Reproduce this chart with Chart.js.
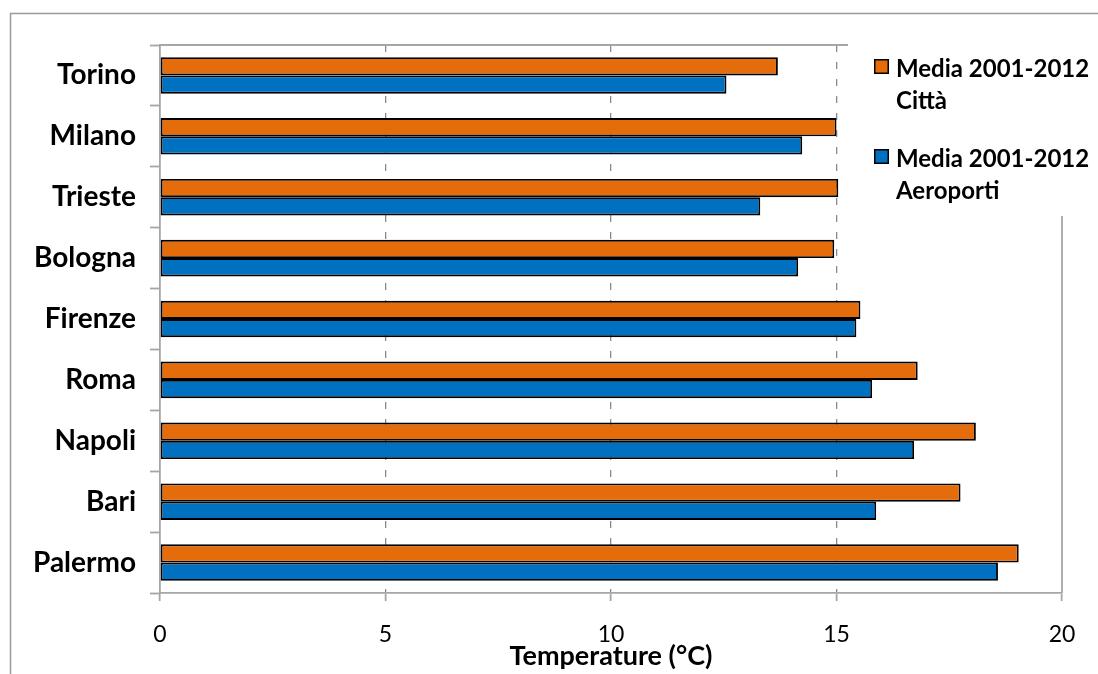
<!DOCTYPE html>
<html>
<head>
<meta charset="utf-8">
<script src="https://cdn.jsdelivr.net/npm/chart.js@4/dist/chart.umd.min.js"></script>
<style>
  html, body { margin: 0; padding: 0; background: #ffffff; }
  #wrap { width: 1098px; height: 674px; position: relative; }
</style>
</head>
<body>
<div id="wrap"><canvas id="chart"></canvas></div>
<script>
// Mean temperatures 2001-2012 (°C): city stations vs. airport stations
const cities = ['Torino', 'Milano', 'Trieste', 'Bologna', 'Firenze', 'Roma', 'Napoli', 'Bari', 'Palermo'];
const cityMeans = [13.70, 15.00, 15.04, 14.95, 15.53, 16.80, 18.09, 17.75, 19.04];
const airportMeans = [12.56, 14.24, 13.31, 14.15, 15.44, 15.79, 16.72, 15.88, 18.58];
const seriesNames = ['Media 2001-2012\nCittà', 'Media 2001-2012\nAeroporti'];
const seriesColors = ['#E46C0A', '#0070C0'];
const xTicks = { min: 0, max: 20, step: 5 };
const xTitle = 'Temperature (°C)';

const FONT = 'Lato, "Open Sans", sans-serif';
const FRAME = '#9a9a9a';

// Outer frame, plot-area box and the legend panel drawn over the top-right corner
const framePlugin = {
  id: 'frame',
  beforeDraw(chart) {
    const ctx = chart.ctx;
    ctx.save();
    ctx.strokeStyle = FRAME;
    ctx.lineWidth = 1.5;
    ctx.beginPath();
    ctx.moveTo(10.5, 674);
    ctx.lineTo(10.5, 13.5);
    ctx.lineTo(1098, 13.5);
    ctx.stroke();
    ctx.restore();
  },
  afterDatasetsDraw(chart) {
    const { ctx, chartArea: a } = chart;
    ctx.save();
    ctx.strokeStyle = '#a6a6a6';
    ctx.lineWidth = 1.8;
    ctx.beginPath();
    ctx.moveTo(a.left, a.top);
    ctx.lineTo(a.right, a.top);
    ctx.lineTo(a.right, a.bottom);
    ctx.stroke();
    ctx.restore();
  },
  afterDraw(chart) {
    const ctx = chart.ctx;
    const box = { x: 848, y: 20, w: 250, h: 196 };
    ctx.save();
    ctx.fillStyle = '#ffffff';
    ctx.fillRect(box.x, box.y, box.w, box.h);
    ctx.font = 'bold 24px ' + FONT;
    ctx.textBaseline = 'alphabetic';
    ctx.textAlign = 'left';
    chart.data.datasets.forEach((ds, i) => {
      const top = 59 + i * 90;
      ctx.fillStyle = ds.backgroundColor;
      ctx.fillRect(874, top, 15, 15);
      ctx.strokeStyle = '#000000';
      ctx.lineWidth = 1.5;
      ctx.strokeRect(874.75, top + 0.75, 13.5, 13.5);
      ctx.fillStyle = '#000000';
      ds.label.split('\n').forEach((line, j) => {
        ctx.fillText(line, 896, top + 18 + j * 32);
      });
    });
    ctx.restore();
  }
};

new Chart(document.getElementById('chart'), {
  type: 'bar',
  data: {
    labels: cities,
    datasets: [
      { label: seriesNames[0], data: cityMeans, backgroundColor: seriesColors[0] },
      { label: seriesNames[1], data: airportMeans, backgroundColor: seriesColors[1] }
    ]
  },
  options: {
    indexAxis: 'y',
    responsive: true,
    maintainAspectRatio: false,
    animation: false,
    devicePixelRatio: 1,
    layout: { padding: { left: 0, top: 45, right: 36, bottom: 0 } },
    datasets: {
      bar: {
        borderColor: '#000000',
        borderWidth: 1.9,
        borderSkipped: false,
        categoryPercentage: 0.6,
        barPercentage: 1.0
      }
    },
    plugins: {
      legend: { display: false },
      tooltip: { enabled: false }
    },
    scales: {
      x: {
        type: 'linear',
        position: 'bottom',
        min: xTicks.min,
        max: xTicks.max,
        afterFit(scale) { scale.height = 81; },
        ticks: {
          stepSize: xTicks.step,
          color: '#000000',
          padding: 20,
          font: { family: FONT, size: 23 }
        },
        grid: {
          color: (c) => (c.tick && (c.tick.value === xTicks.min || c.tick.value === xTicks.max)) ? 'rgba(0,0,0,0)' : '#8a8a8a',
          lineWidth: 1.3,
          tickColor: '#a6a6a6',
          tickLength: 8,
          tickWidth: 1.8,
          tickBorderDash: []
        },
        border: { display: true, color: '#a6a6a6', width: 1.8, dash: [7, 10] },
        title: {
          display: true,
          text: xTitle,
          color: '#000000',
          padding: { top: 0, bottom: 2 },
          font: { family: FONT, size: 27, weight: 'bold' }
        }
      },
      y: {
        type: 'category',
        offset: true,
        afterFit(scale) { scale.width = 160; },
        ticks: {
          color: '#000000',
          padding: 14,
          font: { family: FONT, size: 28, weight: 'bold' }
        },
        grid: {
          offset: true,
          drawOnChartArea: false,
          drawTicks: true,
          tickLength: 10,
          tickColor: '#a6a6a6',
          tickWidth: 1.8
        },
        border: { display: true, color: '#a6a6a6', width: 1.8 }
      }
    }
  },
  plugins: [framePlugin]
});
</script>
</body>
</html>
